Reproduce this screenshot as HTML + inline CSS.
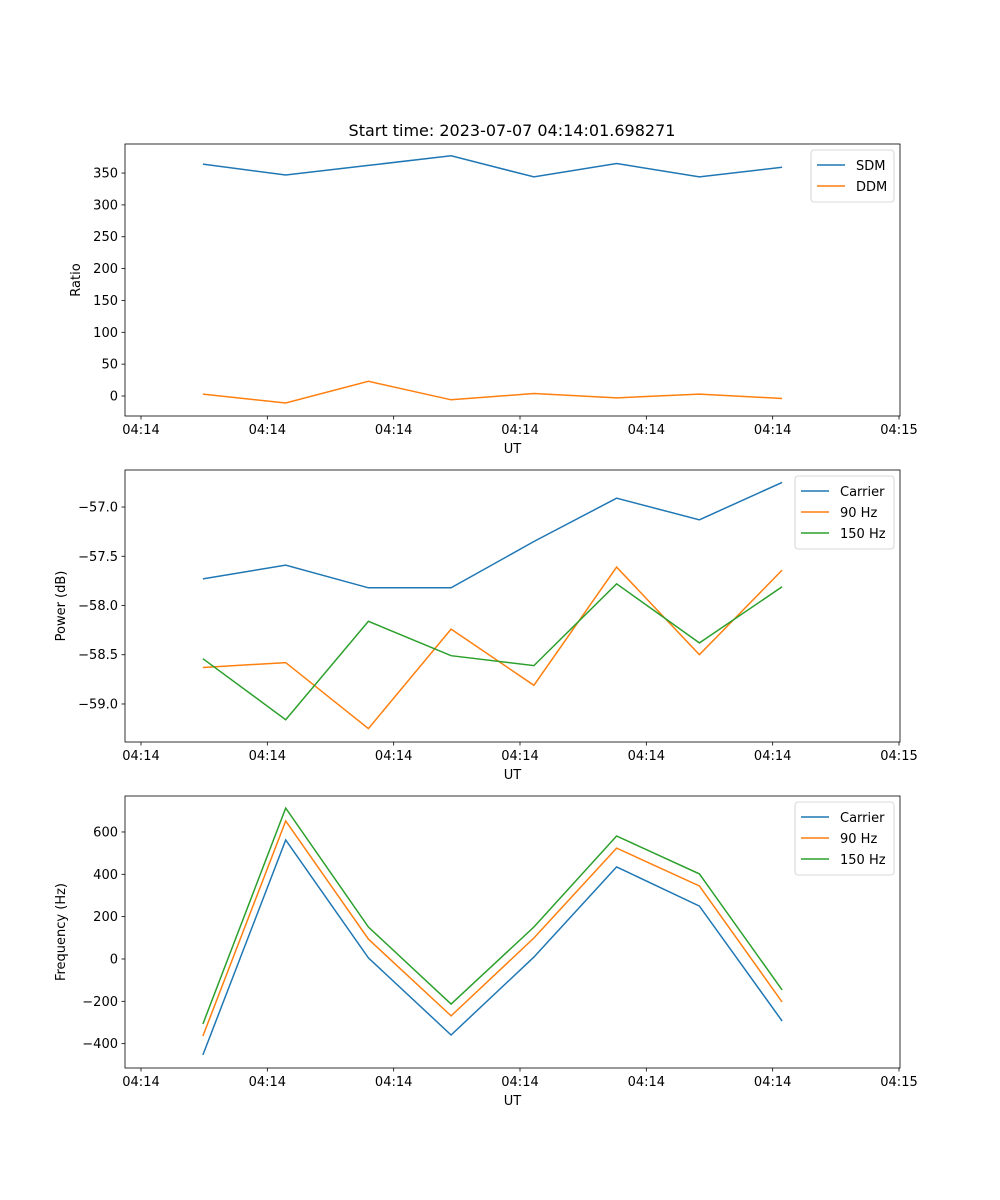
<!DOCTYPE html>
<html><head><meta charset="utf-8"><style>
html,body{margin:0;padding:0;background:#fff;}
svg{display:block;font-family:"DejaVu Sans","Liberation Sans",sans-serif;}
</style></head><body>
<svg id="fig" width="1000" height="1200" viewBox="0 0 1000 1200" xmlns="http://www.w3.org/2000/svg">
<rect width="1000" height="1200" fill="#fff"/>
<text x="512" y="136" font-size="16" text-anchor="middle">Start time: 2023-07-07 04:14:01.698271</text>
</svg>
<script>
// time of each sample (seconds from axis origin)
const times = [4.9, 11.45, 18.0, 24.55, 31.1, 37.65, 44.2, 50.75];
const xTickVals = [0, 10, 20, 30, 40, 50, 60];
const xTickLabels = ["04:14","04:14","04:14","04:14","04:14","04:14","04:15"];

const sdm = [364, 347, 362, 377, 344, 365, 344, 359];
const ddm = [3, -11, 23, -6, 4, -3, 3, -4];
const ratioTicks = [0, 50, 100, 150, 200, 250, 300, 350];

const powCarrier = [-57.73, -57.59, -57.82, -57.82, -57.35, -56.91, -57.13, -56.75];
const pow90 = [-58.63, -58.58, -59.25, -58.24, -58.81, -57.61, -58.50, -57.64];
const pow150 = [-58.54, -59.16, -58.16, -58.51, -58.61, -57.78, -58.38, -57.81];
const powTicks = [-59.0, -58.5, -58.0, -57.5, -57.0];

const freqCarrier = [-453, 562, 5, -359, 9, 435, 250, -293];
const freq90 = [-364, 652, 94, -269, 99, 524, 345, -203];
const freq150 = [-307, 713, 151, -213, 151, 581, 402, -146];
const freqTicks = [-400, -200, 0, 200, 400, 600];

const NS = "http://www.w3.org/2000/svg";
const svg = document.getElementById("fig");
const L = 125, R = 900;
const xScale = v => 141 + (v / 60) * (899 - 141);
const C = ["#1f77b4", "#ff7f0e", "#2ca02c"];

function mk(tag, attrs, parent) {
  const e = document.createElementNS(NS, tag);
  for (const k in attrs) e.setAttribute(k, attrs[k]);
  (parent || svg).appendChild(e);
  return e;
}

function panel(name, top, bottom, yMin, yMax, yTicks, fmt, ylabel, series, names, legendW) {
  const g = mk("g", {});
  
  
  const y = v => bottom - (v - yMin) / (yMax - yMin) * (bottom - top);
  series.forEach((s, i) => {
    const pts = s.map((v, j) => xScale(times[j]).toFixed(1) + "," + y(v).toFixed(1)).join(" ");
    const pl = mk("polyline", {points: pts, fill: "none", stroke: C[i], "stroke-width": 1.5}, g);
    
    
  });
  const fr = mk("rect", {x: L, y: top, width: R - L, height: bottom - top, fill: "none", stroke: "#000", "stroke-width": 0.8}, g);
  
  
  xTickVals.forEach((t, i) => {
    const x = xScale(t);
    mk("line", {x1: x, x2: x, y1: bottom, y2: bottom + 3.5, stroke: "#000", "stroke-width": 0.8}, g);
    const tx = mk("text", {x: x, y: bottom + 18, "font-size": 13, "text-anchor": "middle"}, g);
    tx.textContent = xTickLabels[i];
    
    
  });
  yTicks.forEach(t => {
    const yy = y(t);
    mk("line", {x1: L, x2: L - 3.5, y1: yy, y2: yy, stroke: "#000", "stroke-width": 0.8}, g);
    const tx = mk("text", {x: L - 7, y: yy + 4.5, "font-size": 13, "text-anchor": "end"}, g);
    tx.textContent = fmt(t);
    
    
  });
  const xl = mk("text", {x: (L + R) / 2, y: bottom + 37, "font-size": 13, "text-anchor": "middle"}, g);
  xl.textContent = "UT";
  
  
  const cy = (top + bottom) / 2;
  const ylx = ylabel === "Ratio" ? 80 : 65;
  const yl = mk("text", {x: ylx, y: cy, "font-size": 13, "text-anchor": "middle", transform: "rotate(-90 " + ylx + " " + cy + ")"}, g);
  yl.textContent = ylabel;
  
  
  // legend
  const lx = R - 6 - legendW, ly = top + 6;
  const lg = mk("g", {}, g);
  
  
  mk("rect", {x: lx, y: ly, width: legendW, height: 10 + names.length * 21, rx: 3, fill: "#fff", "fill-opacity": 0.8, stroke: "#ccc", "stroke-width": 0.8}, lg);
  names.forEach((n, i) => {
    const yy = ly + 15 + i * 21;
    mk("line", {x1: lx + 6, x2: lx + 34, y1: yy, y2: yy, stroke: C[i], "stroke-width": 1.5}, lg);
    const tx = mk("text", {x: lx + 45, y: yy + 5, "font-size": 13}, lg);
    tx.textContent = n;
    
    
  });
}

panel("ratio", 144, 416, -31.4, 395.6, ratioTicks, v => v < 0 ? "\u2212" + (-v) : String(v), "Ratio", [sdm, ddm], ["SDM", "DDM"], 83);
panel("power", 470, 742, -59.386, -56.624, powTicks, v => "\u2212" + Math.abs(v).toFixed(1), "Power (dB)", [powCarrier, pow90, pow150], ["Carrier", "90 Hz", "150 Hz"], 99);
panel("frequency", 796, 1068, -515, 770, freqTicks, v => v < 0 ? "\u2212" + (-v) : String(v), "Frequency (Hz)", [freqCarrier, freq90, freq150], ["Carrier", "90 Hz", "150 Hz"], 99);
</script>
</body></html>
